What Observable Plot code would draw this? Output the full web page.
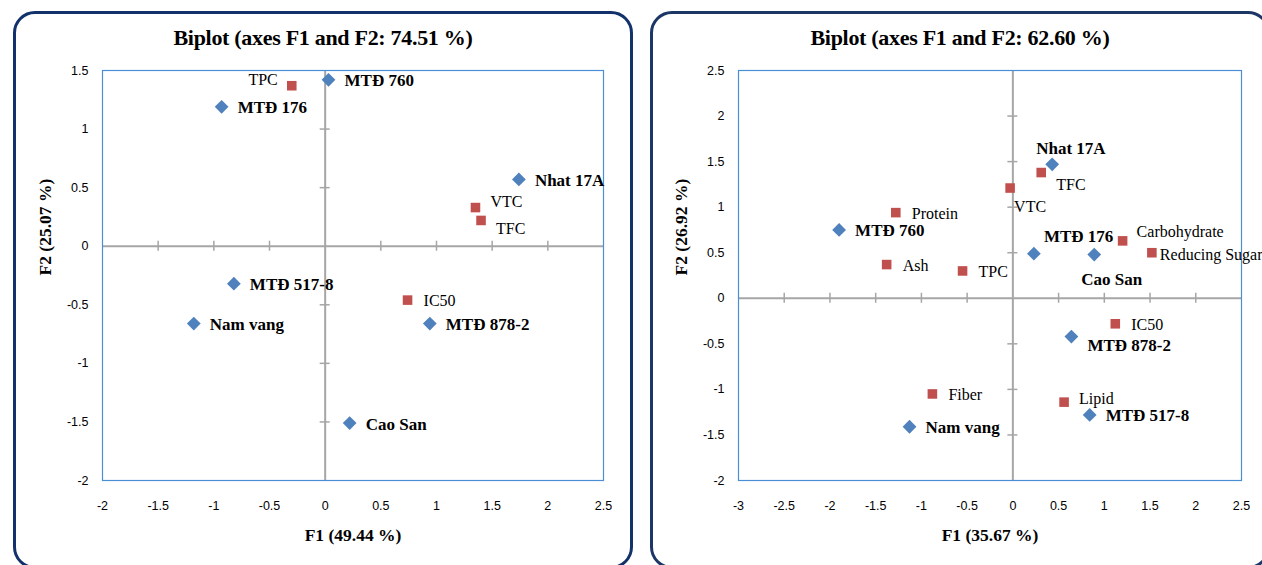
<!DOCTYPE html>
<html><head><meta charset="utf-8">
<script src="https://cdn.jsdelivr.net/npm/d3@7"></script>
<script src="https://cdn.jsdelivr.net/npm/@observablehq/plot@0.6"></script>
<style>
body{margin:0;width:1262px;height:565px;overflow:hidden;background:#fff;position:relative}
.panel{position:absolute;top:11px;border:3px solid #1c3766;border-radius:22px;height:558px;box-sizing:border-box;background:#fff}
.title{position:absolute;top:24px;font:bold 22px "Liberation Serif",serif;line-height:28px;text-align:center;color:#000;letter-spacing:-0.3px}
.chart{position:absolute;top:50px}
.chart svg{max-width:none !important}
</style></head><body>
<div class="panel" style="left:13px;width:620px;border-color:#13316a"></div>
<div class="panel" style="left:650px;width:620px"></div>
<div class="title" id="t1" style="left:13px;width:620px"></div>
<div class="title" id="t2" style="left:650px;width:620px"></div>
<div class="chart" id="c1" style="left:14px;width:618px"></div>
<div class="chart" id="c2" style="left:651px;width:640px"></div>
<script>
// ---------- Left biplot ----------
const leftTitle = "Biplot (axes F1 and F2: 74.51 %)";
const leftXLabel = "F1 (49.44 %)";
const leftYLabel = "F2 (25.07 %)";
const leftXTicks = [-2, -1.5, -1, -0.5, 0, 0.5, 1, 1.5, 2, 2.5];
const leftYTicks = [-2, -1.5, -1, -0.5, 0, 0.5, 1, 1.5];
const leftNames = ["MTĐ 760", "MTĐ 176", "Nhat 17A", "MTĐ 517-8", "Nam vang", "MTĐ 878-2", "Cao San", "TPC", "VTC", "TFC", "IC50"];
const leftKind  = ["obs", "obs", "obs", "obs", "obs", "obs", "obs", "var", "var", "var", "var"];
const leftF1 = [0.03, -0.93, 1.74, -0.82, -1.18, 0.94, 0.22, -0.30, 1.35, 1.40, 0.74];
const leftF2 = [1.42, 1.19, 0.57, -0.32, -0.66, -0.66, -1.51, 1.37, 0.33, 0.22, -0.46];

// ---------- Right biplot ----------
const rightTitle = "Biplot (axes F1 and F2: 62.60 %)";
const rightXLabel = "F1 (35.67 %)";
const rightYLabel = "F2 (26.92 %)";
const rightXTicks = [-3, -2.5, -2, -1.5, -1, -0.5, 0, 0.5, 1, 1.5, 2, 2.5];
const rightYTicks = [-2, -1.5, -1, -0.5, 0, 0.5, 1, 1.5, 2, 2.5];
const rightNames = ["Nhat 17A", "MTĐ 760", "MTĐ 176", "Cao San", "MTĐ 878-2", "MTĐ 517-8", "Nam vang", "TFC", "VTC", "Protein", "Carbohydrate", "Reducing Sugar", "Ash", "TPC", "IC50", "Fiber", "Lipid"];
const rightKind  = ["obs", "obs", "obs", "obs", "obs", "obs", "obs", "var", "var", "var", "var", "var", "var", "var", "var", "var", "var"];
const rightF1 = [0.43, -1.90, 0.23, 0.89, 0.64, 0.84, -1.13, 0.31, -0.03, -1.28, 1.20, 1.52, -1.38, -0.55, 1.12, -0.88, 0.56];
const rightF2 = [1.47, 0.75, 0.49, 0.48, -0.42, -1.28, -1.41, 1.38, 1.21, 0.94, 0.63, 0.50, 0.37, 0.30, -0.28, -1.05, -1.14];

// label placement (pixel offsets, style only)
const leftPlace = {
  "TPC": [-14, -6, "end"], "VTC": [15, -6, "start"], "TFC": [15, 8, "start"]
};
const rightPlace = {
  "Nhat 17A": [-16, -16, "start"], "TFC": [15, 12, "start"], "VTC": [4, 19, "start"],
  "Carbohydrate": [14, -9, "start"], "Reducing Sugar": [8, 2, "start"],
  "MTĐ 176": [10, -17, "start"], "Cao San": [-13, 25, "start"], "MTĐ 878-2": [16, 9, "start"],
  "Lipid": [15, -3, "start"]
};

const fmt = d => String(d);
const GRAY = "#a6a6a6";

function biplot({names, kind, F1, F2, xTicks, yTicks, xLabel, yLabel, place, width, marginLeft, marginRight}) {
  const idx = names.map((_, i) => i);
  const obs = idx.filter(i => kind[i] === "obs");
  const vars = idx.filter(i => kind[i] === "var");
  const innerX = xTicks.filter((t, k) => k > 0 && k < xTicks.length - 1 && t !== 0);
  const innerY = yTicks.filter((t, k) => k > 0 && k < yTicks.length - 1 && t !== 0);
  const labels = idx.map(i => {
    const p = place[names[i]] || [16, 1, "start"];
    const bold = kind[i] === "obs";
    return Plot.text([i], {
      x: j => F1[j], y: j => F2[j], text: j => names[j],
      dx: p[0], dy: p[1], textAnchor: p[2],
      fontFamily: "Liberation Serif", fontSize: bold ? 17 : 16,
      fontWeight: bold ? "bold" : "normal", fill: "#000"
    });
  });
  return Plot.plot({
    width, height: 510, marginLeft, marginRight, marginTop: 20, marginBottom: 80,
    x: {domain: [xTicks[0], xTicks[xTicks.length - 1]], ticks: xTicks, tickFormat: fmt, tickSize: 0, tickPadding: 21, label: null},
    y: {domain: [yTicks[0], yTicks[yTicks.length - 1]], ticks: yTicks, tickFormat: fmt, tickSize: 0, tickPadding: 14, label: null},
    style: {fontFamily: "Liberation Sans, sans-serif", fontSize: "12.5px", color: "#000", background: "transparent", overflow: "visible"},
    marks: [
      Plot.ruleX([0], {stroke: GRAY, strokeWidth: 2}),
      Plot.ruleY([0], {stroke: GRAY, strokeWidth: 2}),
      Plot.ruleX(innerX, {x: d => d, y1: 0, y2: 0, insetTop: -5, insetBottom: -5, stroke: GRAY, strokeWidth: 1.5}),
      Plot.ruleY(innerY, {y: d => d, x1: 0, x2: 0, insetLeft: -5, insetRight: -5, stroke: GRAY, strokeWidth: 1.5}),
      Plot.frame({stroke: "#4a8fd6", strokeWidth: 1.2}),
      Plot.dot(vars, {x: i => F1[i], y: i => F2[i], symbol: "square", fill: "#c0504d", r: 5.4}),
      Plot.dot(obs, {x: i => F1[i], y: i => F2[i], symbol: "diamond2", fill: "#4f81bd", r: 6.2}),
      ...labels,
      Plot.text([xLabel], {frameAnchor: "bottom", dy: 60, text: d => d, fontFamily: "Liberation Serif", fontWeight: "bold", fontSize: 17.5}),
      Plot.text([yLabel], {frameAnchor: "left", dx: -57, rotate: -90, text: d => d, fontFamily: "Liberation Serif", fontWeight: "bold", fontSize: 17.5})
    ]
  });
}

document.getElementById("t1").textContent = leftTitle;
document.getElementById("t2").textContent = rightTitle;
document.getElementById("c1").append(biplot({
  names: leftNames, kind: leftKind, F1: leftF1, F2: leftF2, xTicks: leftXTicks, yTicks: leftYTicks,
  xLabel: leftXLabel, yLabel: leftYLabel, place: leftPlace, width: 618, marginLeft: 88, marginRight: 29
}));
document.getElementById("c2").append(biplot({
  names: rightNames, kind: rightKind, F1: rightF1, F2: rightF2, xTicks: rightXTicks, yTicks: rightYTicks,
  xLabel: rightXLabel, yLabel: rightYLabel, place: rightPlace, width: 640, marginLeft: 87, marginRight: 50
}));
</script>
</body></html>
